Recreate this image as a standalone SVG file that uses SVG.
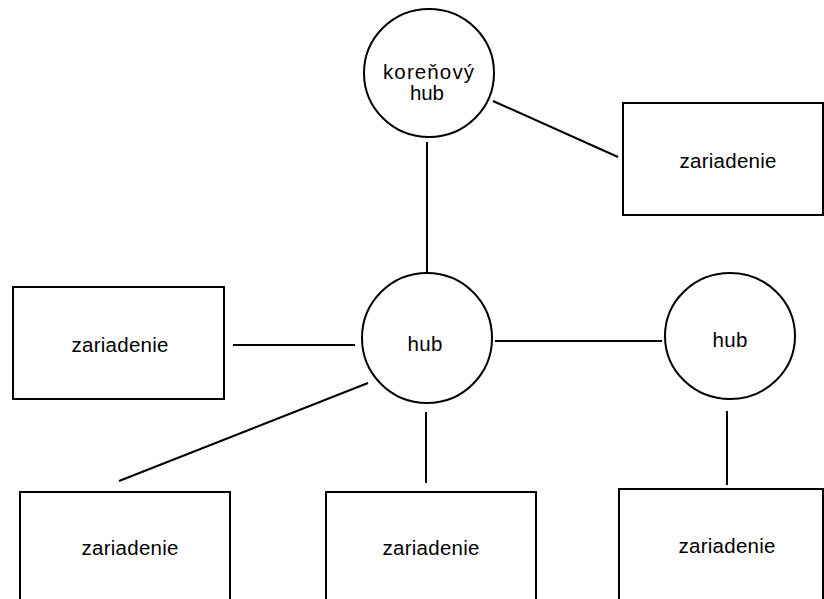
<svg xmlns="http://www.w3.org/2000/svg" width="824" height="599" viewBox="0 0 824 599">
<style>
.n{fill:#fff;stroke:#000;stroke-width:2}
.c{stroke:#000;stroke-width:2;fill:none}
text{font-family:"Liberation Sans",Arial,sans-serif;font-size:20.5px;fill:#000;text-anchor:middle}
</style>
<rect width="824" height="599" fill="#fff"/>
<g id="connectors">
<line class="c" x1="427" y1="142" x2="427" y2="272"/>
<line class="c" x1="493" y1="101" x2="618" y2="157"/>
<line class="c" x1="233" y1="345" x2="355" y2="345"/>
<line class="c" x1="495" y1="341" x2="662" y2="341"/>
<line class="c" x1="368" y1="383" x2="119" y2="481"/>
<line class="c" x1="426" y1="412" x2="426" y2="483"/>
<line class="c" x1="727" y1="411" x2="727" y2="485"/>
</g>
<g id="root-hub">
<ellipse class="n" cx="429" cy="73" rx="65" ry="64"/>
<text x="428.5" y="79" textLength="91" lengthAdjust="spacing">koreňový</text>
<text x="427" y="100" textLength="34" lengthAdjust="spacing">hub</text>
</g>
<g id="hub-middle">
<ellipse class="n" cx="427" cy="338" rx="65" ry="65"/>
<text x="425" y="351" textLength="35" lengthAdjust="spacing">hub</text>
</g>
<g id="hub-right">
<ellipse class="n" cx="730" cy="336" rx="65" ry="63"/>
<text x="730" y="347" textLength="35" lengthAdjust="spacing">hub</text>
</g>
<g id="device-top-right">
<rect class="n" x="623" y="103" width="200" height="112"/>
<text x="728" y="168" textLength="97" lengthAdjust="spacing">zariadenie</text>
</g>
<g id="device-left">
<rect class="n" x="13" y="287" width="211" height="112"/>
<text x="120" y="352" textLength="97" lengthAdjust="spacing">zariadenie</text>
</g>
<g id="device-bottom-left">
<rect class="n" x="20" y="492" width="210" height="112"/>
<text x="130" y="555" textLength="97" lengthAdjust="spacing">zariadenie</text>
</g>
<g id="device-bottom-middle">
<rect class="n" x="326" y="492" width="210" height="112"/>
<text x="431" y="555" textLength="97" lengthAdjust="spacing">zariadenie</text>
</g>
<g id="device-bottom-right">
<rect class="n" x="619" y="489" width="204" height="115"/>
<text x="727" y="553" textLength="97" lengthAdjust="spacing">zariadenie</text>
</g>
</svg>
